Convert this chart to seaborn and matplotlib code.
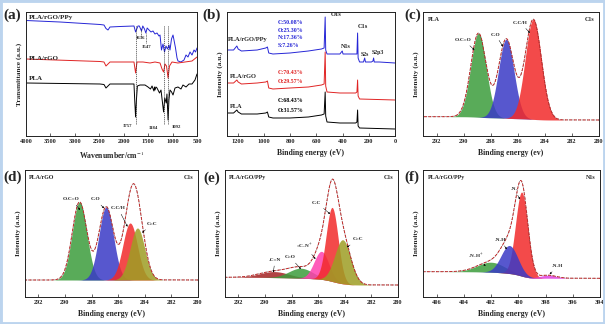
import numpy as np
import matplotlib
matplotlib.use("Agg")
import matplotlib.pyplot as plt
import seaborn as sns
from matplotlib.patches import Rectangle

sns.set_theme(style="ticks")
plt.rcParams["font.family"] = ["Liberation Serif", "DejaVu Serif"]
plt.rcParams["mathtext.fontset"] = "stix"

# ---------------- (a) FTIR spectra ----------------
ftir_ppy_wn = [4000, 3304, 2485, 2404, 2363, 2322, 2281, 2076, 1790, 1757,
               1708, 1680, 1636, 1610, 1575, 1547, 1520, 1482, 1442, 1401,
               1360, 1319, 1278, 1257, 1227, 1196, 1165, 1135, 1104, 1073,
               1053, 1022, 991, 971, 940, 909, 889, 828, 766, 725,
               684, 643, 602, 561, 530, 500]
ftir_ppy_t = [115.5, 114, 111.5, 111, 107.5, 106, 109, 109.5, 110, 104,
              110, 110, 105, 110, 107, 103, 108, 106, 104, 105,
              102, 103, 100, 101, 86, 92, 84, 90, 87, 91,
              86, 97, 101, 96, 88, 78, 75, 74, 76, 81,
              79, 84, 81, 86, 84, 88]
ftir_rgo_wn = [4000, 2485, 2404, 2363, 2322, 2281, 1790, 1757, 1728, 1605,
               1462, 1360, 1257, 1216, 1184, 1155, 1124, 1092, 1063, 1012,
               889, 746, 602, 500]
ftir_rgo_t = [77, 74.5, 74, 70, 72, 74, 74, 63, 74, 74,
              73, 74, 73, 67, 64, 72, 70, 58, 70, 74,
              73, 74, 75, 79]
ftir_pla_wn = [4000, 2485, 2404, 2363, 2322, 2281, 1790, 1770, 1757, 1740,
               1720, 1667, 1564, 1503, 1452, 1420, 1382, 1370, 1360, 1340,
               1319, 1267, 1237, 1184, 1160, 1130, 1115, 1092, 1075, 1053,
               1020, 991, 950, 889, 828, 787, 725, 664, 602, 541, 500]
ftir_pla_t = [53, 52, 51.5, 48, 50, 52, 52, 31, 19, 36,
              50, 51, 51, 49, 47, 50, 45, 49, 46, 49,
              48, 43, 46, 24, 38, 33, 42, 16, 36, 46,
              44, 41, 48, 49, 47, 51, 49, 52, 52, 56, 62]
ftir_marks = [1757, 1184, 1092]
ftir_ticks = [4000, 3500, 3000, 2500, 2000, 1500, 1000, 500]

# ---------------- (b) XPS survey ----------------
surv_ppy_be = [1280, 1230, 1205, 1195, 1170, 1050, 985, 972, 962, 930,
               800, 660, 560, 540, 532, 528, 518, 420, 402, 396,
               300, 290, 285, 281, 270, 240, 231, 225, 180, 168,
               163, 158, 120, 0]
surv_ppy_i = [86, 86, 90, 87, 85, 86, 88, 89, 83, 82,
              83, 85, 87, 88, 119, 86, 82, 82, 85, 82,
              82, 82, 103, 78, 74, 74, 78, 74, 74, 75,
              78, 74, 74, 73]
surv_be = [1280, 1230, 1205, 1195, 1170, 1050, 985, 972, 962, 930,
           800, 660, 560, 540, 532, 528, 518, 420, 300, 290,
           285, 281, 270, 0]
surv_rgo_i = [53, 53, 56, 54, 52, 53, 54, 55, 48, 47,
              48, 49, 51, 52, 84, 50, 44, 43, 43, 44,
              56, 40, 37, 36]
surv_pla_i = [23, 23, 26, 24, 22, 22, 23, 24, 19, 18,
              18, 19, 21, 22, 44, 20, 14, 13, 13, 14,
              26, 10, 8, 7]
survey_ticks = [1200, 1000, 800, 600, 400, 200, 0]
comp_ppy = ["C:50.08%", "O:25.30%", "N:17.36%", "S:7.26%"]
comp_rgo = ["C:70.43%", "O:29.57%"]
comp_pla = ["C:68.43%", "O:31.57%"]

# ---------------- (c)-(f) high-resolution fits ----------------
c1s_ticks = [292, 290, 288, 286, 284, 282, 280]
n1s_ticks = [406, 404, 402, 400, 398, 396, 394]

pla_names = ["O-C=O", "C-O", "C-C/H"]
pla_center = [288.9, 286.85, 284.85]
pla_height = [84, 79, 100]
pla_sigma = [0.57, 0.57, 0.6]

rgo_names = ["O-C=O", "C-O", "C-C/H", "C=C"]
rgo_center = [288.9, 286.9, 285.1, 284.55]
rgo_height = [78, 73, 57, 52]
rgo_sigma = [0.55, 0.55, 0.55, 0.55]

ppy_c_names = ["-C=N", "C=O", "=C-N$^{+}$", "C-C", "C=C"]
ppy_c_center = [289.3, 287.3, 285.75, 284.95, 284.15]
ppy_c_height = [6, 10, 28, 74, 44]
ppy_c_sigma = [1.1, 0.9, 0.55, 0.45, 0.6]

ppy_n_names = ["-N-H$^{+}$", "-N-", "-N-H", "-N-H"]
ppy_n_center = [402.0, 399.75, 400.65, 397.8]
ppy_n_height = [10, 84, 28, 3]
ppy_n_sigma = [1.0, 0.45, 0.62, 0.6]

GREEN, BLUE, RED = "#3c9c3c", "#3a3ac6", "#f22a2a"
OLIVE, PINK, DRED, MAG = "#9e9e24", "#ff3fae", "#a42222", "#e040e0"

W, H = 605, 324
fig = plt.figure(figsize=(W / 100, H / 100), dpi=100)
fig.patch.set_facecolor("white")


def add_panel(l, t, r, b):
    return fig.add_axes([l / W, 1 - b / H, (r - l) / W, (b - t) / H])


def style(ax, xlim, ticks, ylim, xlabel, ylabel):
    ax.set_xlim(*xlim)
    ax.set_ylim(*ylim)
    ax.set_xticks(ticks)
    ax.set_xticklabels([str(t) for t in ticks], fontsize=4.6, fontweight="bold")
    ax.set_yticks([])
    ax.tick_params(axis="x", direction="in", length=2, width=0.5, pad=2.5)
    for s in ax.spines.values():
        s.set_linewidth(0.7)
        s.set_color("#222222")
    ax.set_xlabel(xlabel, fontsize=5.6, fontweight="bold", labelpad=3.5)
    ax.set_ylabel(ylabel, fontsize=5.2, fontweight="bold", labelpad=3)
    ax.set_facecolor("white")


def arrow_label(ax, text, tip, pos, size=3.8):
    ax.annotate(text, xy=tip, xytext=pos, fontsize=size, fontweight="bold",
                ha="center", va="center",
                arrowprops=dict(arrowstyle="-|>", lw=0.35, color="black",
                                mutation_scale=2.5, shrinkA=0.5, shrinkB=0))


def fit_panel(ax, lo, hi, centers, heights, sigmas, colors, order, bg_hi, bg_lo):
    x = np.linspace(lo, hi, 900)
    comps = [h * np.exp(-(x - c) ** 2 / (2 * s ** 2))
             for c, h, s in zip(centers, heights, sigmas)]
    env = np.sum(comps, axis=0)
    bg = bg_lo + (bg_hi - bg_lo) * np.cumsum(env) / env.sum()
    for i in order:
        ax.fill_between(x, bg, bg + comps[i], color=colors[i], alpha=0.85, lw=0)
    sns.lineplot(x=x, y=bg + env, ax=ax, color="#333333", lw=0.5,
                 linestyle=":", sort=False)
    sns.lineplot(x=x, y=bg + env, ax=ax, color="#c42a2a", lw=0.7,
                 linestyle=(0, (3, 1.6)), sort=False)


def corner_labels(ax, left, right):
    ax.text(0.025, 0.96, left, transform=ax.transAxes, fontsize=4.3,
            fontweight="bold", va="top", ha="left")
    ax.text(0.975, 0.96, right, transform=ax.transAxes, fontsize=4.3,
            fontweight="bold", va="top", ha="right")


# ---- (a)
ax = add_panel(26, 12, 197, 136)
sns.lineplot(x=ftir_ppy_wn, y=ftir_ppy_t, ax=ax, color="#2626d6", lw=0.7)
sns.lineplot(x=ftir_rgo_wn, y=ftir_rgo_t, ax=ax, color="#e02424", lw=0.7)
sns.lineplot(x=ftir_pla_wn, y=ftir_pla_t, ax=ax, color="black", lw=0.7)
for wn in ftir_marks:
    ax.plot([wn, wn], [12, 111], color="#222222", lw=0.45, ls=(0, (2, 1.3)))
ax.plot([1636, 1636], [100, 108], color="#222222", lw=0.45, ls=(0, (1.5, 1)))
ax.plot([1547, 1547], [93, 103], color="#222222", lw=0.45, ls=(0, (1.5, 1)))
ax.text(1930, 10, "1757", fontsize=3.4, fontweight="bold", ha="center", va="center")
ax.text(1390, 8, "1184", fontsize=3.4, fontweight="bold", ha="center", va="center")
ax.text(930, 9, "1092", fontsize=3.4, fontweight="bold", ha="center", va="center")
ax.text(1660, 98, "1636", fontsize=3.4, fontweight="bold", ha="center", va="center")
ax.text(1525, 89, "1547", fontsize=3.4, fontweight="bold", ha="center", va="center")
ax.text(3940, 119, "PLA/rGO/PPy", fontsize=5, fontweight="bold", va="center")
ax.text(3940, 78, "PLA/rGO", fontsize=5, fontweight="bold", va="center")
ax.text(3940, 57, "PLA", fontsize=5, fontweight="bold", va="center")
style(ax, (4000, 500), ftir_ticks, (0, 124), "Wavenumber/cm$^{-1}$",
      "Transmittance (a.u.)")

# ---- (b)
ax = add_panel(227, 12, 395, 136)
sns.lineplot(x=surv_ppy_be, y=surv_ppy_i, ax=ax, color="#2626d6", lw=0.7)
sns.lineplot(x=surv_be, y=surv_rgo_i, ax=ax, color="#e02424", lw=0.7)
sns.lineplot(x=surv_be, y=surv_pla_i, ax=ax, color="black", lw=0.7)
ax.text(1271, 96, "PLA/rGO/PPy", fontsize=4.6, fontweight="bold", va="center")
ax.text(1258, 60, "PLA/rGO", fontsize=4.6, fontweight="bold", va="center")
ax.text(1258, 30, "PLA", fontsize=4.6, fontweight="bold", va="center")
for k, line in enumerate(comp_ppy):
    ax.text(891, 113.5 - 7.6 * k, line, fontsize=4.2, fontweight="bold",
            color="#2626d6", va="center")
for k, line in enumerate(comp_rgo):
    ax.text(891, 63.5 - 9 * k, line, fontsize=4.2, fontweight="bold",
            color="#e02424", va="center")
for k, line in enumerate(comp_pla):
    ax.text(891, 35 - 9 * k, line, fontsize=4.2, fontweight="bold",
            color="black", va="center")
ax.text(450, 122, "O1s", fontsize=4.6, fontweight="bold", ha="center",
        va="center", clip_on=False)
ax.text(371, 89.5, "N1s", fontsize=4.4, fontweight="bold", ha="center", va="center")
ax.text(245, 110, "C1s", fontsize=4.6, fontweight="bold", ha="center", va="center")
ax.text(227, 81, "S2s", fontsize=4.2, fontweight="bold", ha="center", va="center")
ax.text(131, 83.5, "S2p3", fontsize=4.2, fontweight="bold", ha="center", va="center")
style(ax, (1280, 0), survey_ticks, (0, 124), "Binding energy (eV)",
      "Intensity (a.u.)")

# ---- (c)
ax = add_panel(423, 12, 599, 136)
fit_panel(ax, 280, 293, pla_center, pla_height, pla_sigma,
          [GREEN, BLUE, RED], [0, 1, 2], 19.3, 16)
arrow_label(ax, pla_names[0], (289.2, 86), (290.0, 96))
arrow_label(ax, pla_names[1], (287.1, 89.5), (287.65, 101.5))
arrow_label(ax, pla_names[2], (285.1, 103), (285.8, 113.3))
corner_labels(ax, "PLA", "C1s")
style(ax, (293, 280), c1s_ticks, (0, 124), "Binding energy (ev)",
      "Intensity (a.u.)")

# ---- (d)
ax = add_panel(25, 170, 198, 297)
fit_panel(ax, 280, 293, rgo_center, rgo_height, rgo_sigma,
          [GREEN, BLUE, RED, OLIVE], [0, 1, 2, 3], 17, 17)
arrow_label(ax, rgo_names[0], (288.86, 87), (289.5, 97.7))
arrow_label(ax, rgo_names[1], (287.06, 88.7), (287.7, 97.7))
arrow_label(ax, rgo_names[2], (285.3, 70.3), (286.0, 88.7))
arrow_label(ax, rgo_names[3], (284.2, 64.3), (283.45, 73))
corner_labels(ax, "PLA/rGO", "C1s")
style(ax, (293, 280), c1s_ticks, (0, 127), "Binding energy (eV)",
      "Intensity (a.u.)")

# ---- (e)
ax = add_panel(225, 170, 398, 297)
fit_panel(ax, 280, 293, ppy_c_center, ppy_c_height, ppy_c_sigma,
          [DRED, GREEN, PINK, RED, OLIVE], [0, 1, 2, 3, 4], 19.7, 12)
arrow_label(ax, ppy_c_names[0], (289.37, 24.5), (289.24, 37))
arrow_label(ax, ppy_c_names[1], (287.3, 28), (288.1, 39.7))
arrow_label(ax, ppy_c_names[2], (286.2, 38), (287.0, 51))
arrow_label(ax, ppy_c_names[3], (285.1, 83), (286.1, 94.3))
arrow_label(ax, ppy_c_names[4], (283.85, 49.7), (283.0, 57.7))
corner_labels(ax, "PLA/rGO/PPy", "C1s")
style(ax, (293, 280), c1s_ticks, (0, 127), "Binding energy (eV)",
      "Intensity (a.u.)")

# ---- (f)
ax = add_panel(423, 170, 600, 297)
fit_panel(ax, 394, 407, ppy_n_center, ppy_n_height, ppy_n_sigma,
          [GREEN, RED, BLUE, MAG], [0, 1, 2, 3], 25.3, 18.7)
arrow_label(ax, ppy_n_names[1], (399.87, 97.7), (400.3, 107.7))
arrow_label(ax, ppy_n_names[2], (400.85, 47.7), (401.3, 57))
arrow_label(ax, ppy_n_names[0], (402.4, 31), (403.15, 40.3))
arrow_label(ax, ppy_n_names[3], (397.7, 22.7), (397.1, 31))
corner_labels(ax, "PLA/rGO/PPy", "N1s")
style(ax, (407, 394), n1s_ticks, (0, 127), "Binding energy (eV)",
      "Intensity (a.u.)")

# panel letters
for letter, x, y in [("(a)", 3, 15), ("(b)", 202, 15), ("(c)", 404, 15),
                     ("(d)", 3, 177), ("(e)", 203, 178), ("(f)", 404, 177)]:
    fig.text(x / W, 1 - y / H, letter, fontsize=11, fontweight="bold",
             ha="left", va="center")

# light frame around the figure
fig.patches.append(Rectangle((0, 0), 1, 1, transform=fig.transFigure,
                             fill=False, edgecolor="#bcd4ee", lw=3.5))

fig.savefig("out.png", dpi=100, facecolor="white")
